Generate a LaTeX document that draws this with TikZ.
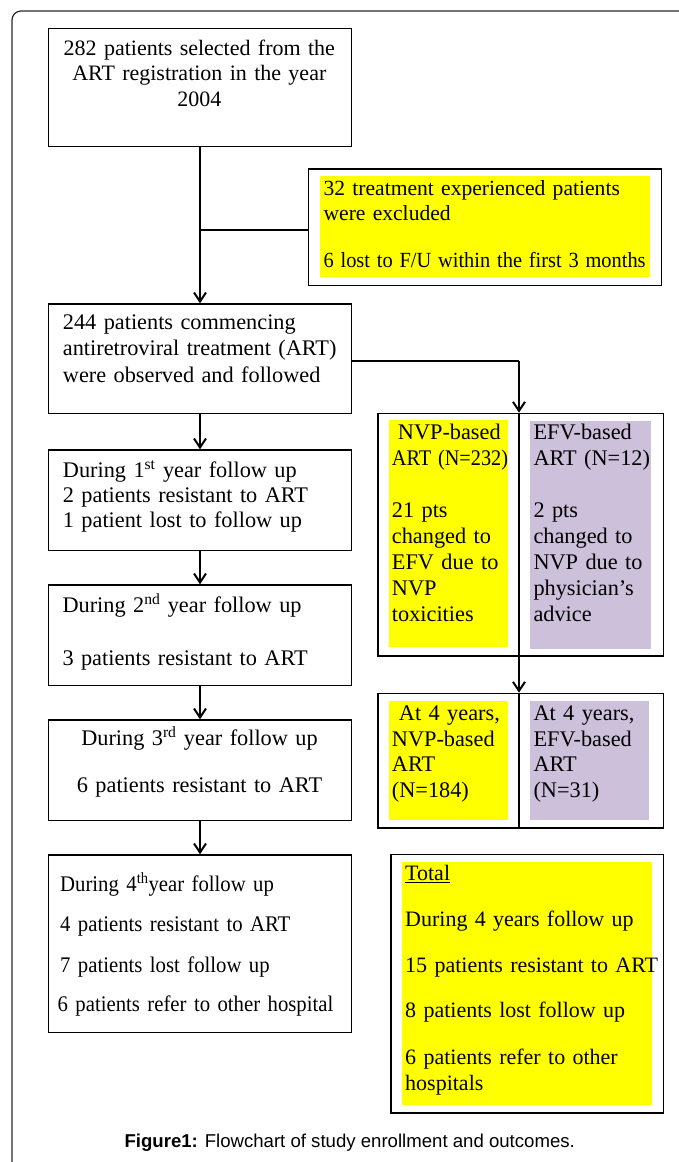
\documentclass[tikz,border=0pt]{standalone}
\usepackage{fontspec}
\usepackage{graphicx}
\setmainfont{Liberation Serif}
\newfontfamily\condserif[FakeStretch=0.93]{Liberation Serif}
\newfontfamily\capfont{Liberation Sans}
\usetikzlibrary{arrows.meta}
\definecolor{hlyellow}{RGB}{255,255,0}
\definecolor{hlpurple}{RGB}{204,192,218}
\definecolor{framegray}{RGB}{40,40,40}
\begin{document}
\begin{tikzpicture}[x=1pt,y=-1pt,
  boxnode/.style={draw=black,line width=1.4pt,rectangle,inner sep=0pt,anchor=north west},
  arr/.style={line width=2pt,-{Straight Barb[length=9pt,width=12pt,line width=2pt]}},
  thinline/.style={line width=1.1pt},
  txt/.style={inner sep=0pt,anchor=base west,align=left,text width=400pt,font=\fontsize{22.3}{25.5}\selectfont},
  ctxt/.style={inner sep=0pt,anchor=base,align=center,text width=330pt,font=\fontsize{22}{25.5}\selectfont}
]
\useasboundingbox (0,0) rectangle (678,1162);
% outer frame
\draw[framegray,line width=1.2pt,rounded corners=9pt] (12,1175) -- (12,11) -- (700,11);

% colour fills
\fill[hlyellow] (320,176) rectangle (650,277.3);
\fill[hlyellow] (389,420) rectangle (507.7,647);
\fill[hlpurple] (530,421) rectangle (651,648.7);
\fill[hlyellow] (389,701) rectangle (507.7,820);
\fill[hlpurple] (530,701) rectangle (648.7,820);
\fill[hlyellow] (402,861.7) rectangle (652,1105);

% boxes
\node[boxnode,minimum width=303.4pt,minimum height=118.3pt] (b1) at (47.6,27.7) {};
\node[boxnode,minimum width=352.6pt,minimum height=116.7pt] (ex) at (308,168.3) {};
\node[boxnode,minimum width=303.4pt,minimum height=109.4pt] (b2) at (47.6,303.3) {};
\node[boxnode,minimum width=303.4pt,minimum height=100.7pt] (b3) at (47.6,449.3) {};
\node[boxnode,minimum width=303.4pt,minimum height=100.7pt] (b4) at (47.6,584.3) {};
\node[boxnode,minimum width=303.4pt,minimum height=100.7pt] (b5) at (47.6,719.3) {};
\node[boxnode,minimum width=303.4pt,minimum height=177.7pt] (b6) at (47.6,854.3) {};
\node[boxnode,minimum width=285.4pt,minimum height=242.6pt] (nb) at (377.3,412.7) {};
\node[boxnode,minimum width=285.4pt,minimum height=134.6pt] (nc) at (377.3,692.7) {};
\node[boxnode,minimum width=272.4pt,minimum height=258.6pt] (tot) at (390.4,853.7) {};

% dividers
\coordinate (d1) at (519,412.7);
\coordinate (d2) at (519,692.7);
\draw[line width=1.4pt] (d1) -- (d1 |- nb.south);
\draw[line width=1.4pt] (d2) -- (d2 |- nc.south);

% texts
\node[ctxt] (t1) at (199.3,55) {282 patients selected from the\\ART registration in the year\\2004};
\node[txt,font=\fontsize{21.6}{25.5}\selectfont] (tex) at (323.4,195) {32 treatment experienced patients\\were excluded\\[21.5pt]\scalebox{0.945}[1]{6 lost to F/U within the first 3 months}};
\node[txt,font=\fontsize{22.3}{26.5}\selectfont] (t2) at (62.7,329) {244 patients commencing\\antiretroviral treatment (ART)\\were observed and followed};
\node[txt,font=\fontsize{22.3}{25}\selectfont] (t3) at (62.7,477) {During 1\textsuperscript{st} year follow up\\2 patients resistant to ART\\1 patient lost to follow up};
\node[txt] (t4) at (62.3,612) {During 2\textsuperscript{nd} year follow up\\[28pt]3 patients resistant to ART};
\node[ctxt,font=\fontsize{22.3}{25.5}\selectfont] (t5) at (199.5,745.5) {During 3\textsuperscript{rd} year follow up\\[21pt]6 patients resistant to ART};
\node[txt,font=\condserif\fontsize{22.3}{25.5}\selectfont] (t6) at (60,891) {During 4\textsuperscript{th}year follow up\\[14.5pt]4 patients resistant to ART\\[15.5pt]7 patients lost follow up\\[14pt]\hspace{-2.5pt}6 patients refer to other hospital};
\node[txt,font=\fontsize{22.3}{26}\selectfont] (tn) at (391.7,439) {\hspace{6pt}NVP-based\\\scalebox{0.91}[1]{ART (N=232)}\\[26pt]21 pts\\changed to\\EFV due to\\NVP\\toxicities};
\node[txt,font=\fontsize{22.3}{26}\selectfont] (te) at (533.3,439) {EFV-based\\ART (N=12)\\[26pt]2 pts\\changed to\\NVP due to\\physician’s\\advice};
\node[txt] (tn2) at (391.7,720.5) {\hspace{7pt}At 4 years,\\NVP-based\\ART\\(N=184)};
\node[txt] (te2) at (533.3,720.5) {At 4 years,\\EFV-based\\ART\\(N=31)};
\node[txt,font=\fontsize{22}{25.5}\selectfont] (tt) at (405,880.5) {\underline{Total}\\[20pt]During 4 years follow up\\[21pt]15 patients resistant to ART\\[19.5pt]8 patients lost follow up\\[21.5pt]6 patients refer to other\\hospitals};
\node[inner sep=0pt,anchor=base,font=\capfont\fontsize{18.6}{22}\selectfont] (cap) at (349.7,1147) {\textbf{Figure1:} Flowchart of study enrollment and outcomes.};

% connectors
\draw[arr] (b1.south) -- (b2.north);
\coordinate (j1) at (b1.south |- 0,230);
\draw[thinline] (j1) -- (j1 -| ex.west);
\coordinate (j2) at (b2.east |- 0,361);
\coordinate (j3) at (d1 |- j2);
\draw[thinline] (j2) -- (j3);
\draw[arr] (j3) -- (d1);
\draw[arr] (b2.south) -- (b3.north);
\draw[arr] (b3.south) -- (b4.north);
\draw[arr] (b4.south) -- (b5.north);
\draw[arr] (b5.south) -- (b6.north);
\draw[arr] (d1 |- nb.south) -- (d2);
\end{tikzpicture}
\end{document}
